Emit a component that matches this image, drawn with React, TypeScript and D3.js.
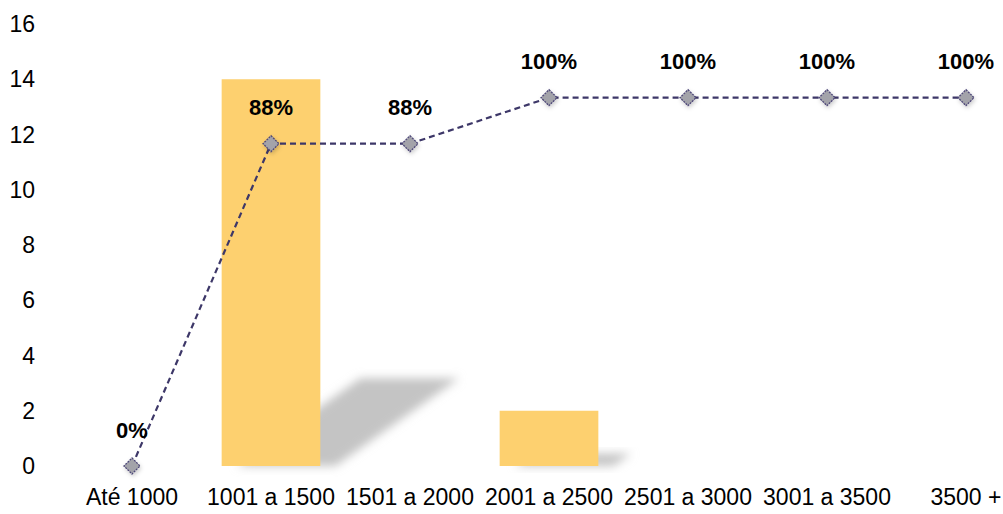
import * as d3 from 'd3';

const categories = ['Até 1000', '1001 a 1500', '1501 a 2000', '2001 a 2500', '2501 a 3000', '3001 a 3500', '3500 +'];
const counts = [0, 14, 0, 2, 0, 0, 0];
const cumulative = [0, 0.875, 0.875, 1, 1, 1, 1];
const yTicks = [0, 2, 4, 6, 8, 10, 12, 14, 16];

const W = 1003;
const H = 514;
const FONT = "'Liberation Sans', Arial, sans-serif";

export default function App() {
  const x = d3.scaleBand<string>().domain(categories).range([62.5, 1035.5]).padding(0);
  const y = d3.scaleLinear().domain([0, 16]).range([466, 24]);
  const y2 = d3.scaleLinear().domain([0, 1.2]).range([466, 24]);
  const barW = x.bandwidth() * 0.71;
  const cx = (c: string) => x(c)! + x.bandwidth() / 2;
  const pct = d3.format('.0%');

  const line = d3
    .line<number>()
    .x((_, i) => cx(categories[i]))
    .y((d) => y2(d));

  return (
    <svg width={W} height={H} style={{ position: 'absolute', left: 0, top: 0, fontFamily: FONT }}>
      <defs>
        <filter id="blur" x="-50%" y="-50%" width="200%" height="200%">
          <feGaussianBlur stdDeviation="5" />
        </filter>
        <filter id="mshadow" x="-50%" y="-50%" width="200%" height="200%">
          <feDropShadow dx="1" dy="2" stdDeviation="2" floodColor="#000" floodOpacity="0.2" />
        </filter>
      </defs>

      {/* bar shadows */}
      {counts.map((v, i) => {
        if (!v) return null;
        const x0 = cx(categories[i]) - barW / 2 + 15;
        const x1 = x0 + barW;
        const base = y(0);
        const h = base - y(v);
        const sh = h * 0.227;
        const dx = h * 0.32;
        const pts = [
          [x0, base],
          [x1, base],
          [x1 + dx, base - sh],
          [x0 + dx, base - sh],
        ];
        return <polygon key={'s' + i} points={pts.map((p) => p.join(',')).join(' ')} fill="#c4c4c4" filter="url(#blur)" />;
      })}

      {/* bars */}
      {counts.map((v, i) =>
        v ? (
          <rect
            key={'b' + i}
            x={cx(categories[i]) - barW / 2}
            y={y(v)}
            width={barW}
            height={y(0) - y(v)}
            fill="#fdd06f"
          />
        ) : null,
      )}

      {/* y axis labels */}
      {yTicks.map((t) => (
        <text key={t} x={35} y={y(t)} dy="0.35em" textAnchor="end" fontSize={23} fill="#000">
          {t}
        </text>
      ))}

      {/* x axis labels */}
      {categories.map((c) => (
        <text key={c} x={cx(c)} y={497} dy="0.35em" textAnchor="middle" fontSize={23} fill="#000">
          {c}
        </text>
      ))}

      {/* cumulative line */}
      <path d={line(cumulative)!} fill="none" stroke="#3d3768" strokeWidth={2.2} strokeDasharray="6,4" />
      {cumulative.map((v, i) => {
        const px = cx(categories[i]);
        const py = y2(v);
        const r = 8;
        return (
          <g key={'m' + i}>
            <polygon
              points={`${px},${py - r} ${px + r},${py} ${px},${py + r} ${px - r},${py}`}
              fill="#a3a3aa"
              stroke="#4e4878"
              strokeWidth={1.3}
              strokeDasharray="2,1"
              filter="url(#mshadow)"
            />
            <text x={px} y={py - 36} dy="0.35em" textAnchor="middle" fontSize={22} fontWeight="bold" fill="#000">
              {pct(v)}
            </text>
          </g>
        );
      })}
    </svg>
  );
}
